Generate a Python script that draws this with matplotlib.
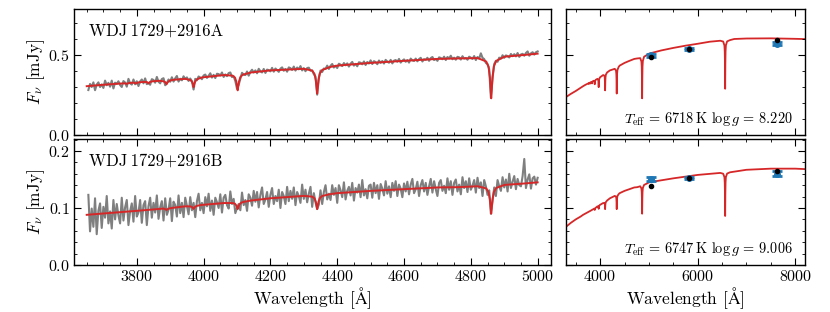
import numpy as np
import matplotlib
matplotlib.use("Agg")
import matplotlib.pyplot as plt
from matplotlib.ticker import MultipleLocator

plt.rcParams['font.family'] = ['cmr10', 'DejaVu Serif']
plt.rcParams['mathtext.fontset'] = 'cm'
plt.rcParams['axes.formatter.use_mathtext'] = True
plt.rcParams['axes.unicode_minus'] = False

# ---------------- data ----------------
spec_wave_start = 3655
spec_wave_step = 5

flux_A = [
 0.282, 0.320, 0.301, 0.330, 0.281, 0.316, 0.330, 0.301, 0.317, 0.295,
 0.341, 0.312, 0.327, 0.303, 0.341, 0.292, 0.328, 0.321, 0.337, 0.313,
 0.301, 0.338, 0.329, 0.303, 0.352, 0.324, 0.316, 0.348, 0.318, 0.337,
 0.307, 0.336, 0.348, 0.324, 0.355, 0.319, 0.326, 0.315, 0.350, 0.345,
 0.328, 0.364, 0.334, 0.324, 0.351, 0.356, 0.312, 0.327, 0.348, 0.334,
 0.362, 0.335, 0.355, 0.370, 0.335, 0.353, 0.343, 0.368, 0.351, 0.361,
 0.339, 0.354, 0.338, 0.285, 0.352, 0.343, 0.367, 0.360, 0.350, 0.373,
 0.379, 0.358, 0.371, 0.387, 0.360, 0.377, 0.357, 0.384, 0.382, 0.373,
 0.392, 0.364, 0.380, 0.369, 0.388, 0.392, 0.363, 0.368, 0.338, 0.290,
 0.315, 0.352, 0.390, 0.378, 0.376, 0.398, 0.372, 0.396, 0.409, 0.392,
 0.405, 0.387, 0.415, 0.400, 0.392, 0.414, 0.389, 0.410, 0.407, 0.399,
 0.421, 0.397, 0.417, 0.407, 0.396, 0.416, 0.424, 0.403, 0.414, 0.397,
 0.424, 0.419, 0.408, 0.429, 0.404, 0.423, 0.412, 0.432, 0.405, 0.419,
 0.400, 0.420, 0.422, 0.403, 0.405, 0.381, 0.367, 0.253, 0.360, 0.404,
 0.395, 0.417, 0.414, 0.435, 0.414, 0.434, 0.445, 0.423, 0.434, 0.420,
 0.447, 0.441, 0.432, 0.451, 0.437, 0.449, 0.429, 0.447, 0.458, 0.435,
 0.446, 0.431, 0.456, 0.453, 0.443, 0.461, 0.439, 0.458, 0.448, 0.468,
 0.445, 0.463, 0.457, 0.444, 0.467, 0.452, 0.464, 0.448, 0.471, 0.460,
 0.453, 0.471, 0.449, 0.466, 0.470, 0.459, 0.477, 0.454, 0.466, 0.474,
 0.459, 0.470, 0.454, 0.479, 0.468, 0.464, 0.479, 0.462, 0.476, 0.484,
 0.461, 0.475, 0.471, 0.484, 0.465, 0.482, 0.489, 0.470, 0.477, 0.465,
 0.487, 0.483, 0.475, 0.491, 0.470, 0.489, 0.480, 0.497, 0.475, 0.485,
 0.472, 0.490, 0.487, 0.473, 0.494, 0.479, 0.483, 0.472, 0.491, 0.485,
 0.477, 0.495, 0.470, 0.489, 0.479, 0.512, 0.484, 0.476, 0.452, 0.445,
 0.413, 0.235, 0.355, 0.445, 0.465, 0.459, 0.485, 0.479, 0.500, 0.484,
 0.499, 0.495, 0.486, 0.508, 0.494, 0.507, 0.493, 0.514, 0.490, 0.505,
 0.509, 0.497, 0.514, 0.524, 0.497, 0.512, 0.519, 0.504, 0.519, 0.524,
]

flux_B = [
 0.123, 0.059, 0.099, 0.067, 0.117, 0.054, 0.095, 0.108, 0.065, 0.102,
 0.083, 0.121, 0.073, 0.094, 0.064, 0.114, 0.080, 0.107, 0.087, 0.073,
 0.118, 0.078, 0.101, 0.114, 0.070, 0.094, 0.108, 0.076, 0.121, 0.085,
 0.092, 0.114, 0.074, 0.105, 0.112, 0.070, 0.103, 0.118, 0.083, 0.109,
 0.092, 0.122, 0.081, 0.101, 0.112, 0.078, 0.117, 0.088, 0.097, 0.117,
 0.077, 0.111, 0.105, 0.085, 0.122, 0.091, 0.109, 0.084, 0.118, 0.104,
 0.089, 0.119, 0.096, 0.109, 0.084, 0.112, 0.125, 0.096, 0.109, 0.091,
 0.119, 0.103, 0.125, 0.095, 0.113, 0.088, 0.118, 0.110, 0.100, 0.124,
 0.092, 0.118, 0.123, 0.105, 0.099, 0.129, 0.107, 0.116, 0.091, 0.100,
 0.107, 0.096, 0.127, 0.105, 0.114, 0.095, 0.124, 0.118, 0.104, 0.130,
 0.111, 0.128, 0.101, 0.123, 0.136, 0.107, 0.115, 0.128, 0.102, 0.123,
 0.135, 0.107, 0.121, 0.112, 0.132, 0.100, 0.128, 0.121, 0.107, 0.137,
 0.112, 0.130, 0.116, 0.136, 0.105, 0.128, 0.121, 0.109, 0.141, 0.116,
 0.132, 0.110, 0.125, 0.137, 0.102, 0.126, 0.110, 0.098, 0.106, 0.131,
 0.107, 0.128, 0.140, 0.115, 0.125, 0.114, 0.140, 0.123, 0.135, 0.109,
 0.140, 0.131, 0.119, 0.145, 0.115, 0.130, 0.137, 0.122, 0.144, 0.113,
 0.135, 0.127, 0.141, 0.119, 0.149, 0.122, 0.133, 0.117, 0.139, 0.141,
 0.118, 0.144, 0.126, 0.140, 0.116, 0.142, 0.134, 0.122, 0.147, 0.125,
 0.138, 0.119, 0.144, 0.130, 0.147, 0.121, 0.141, 0.134, 0.119, 0.143,
 0.129, 0.146, 0.124, 0.141, 0.151, 0.126, 0.133, 0.146, 0.121, 0.140,
 0.149, 0.129, 0.144, 0.123, 0.138, 0.151, 0.127, 0.147, 0.133, 0.121,
 0.144, 0.149, 0.130, 0.139, 0.126, 0.152, 0.132, 0.147, 0.123, 0.144,
 0.150, 0.129, 0.141, 0.124, 0.154, 0.135, 0.147, 0.128, 0.152, 0.132,
 0.139, 0.149, 0.127, 0.153, 0.135, 0.145, 0.121, 0.149, 0.138, 0.123,
 0.131, 0.090, 0.112, 0.136, 0.121, 0.149, 0.138, 0.130, 0.154, 0.136,
 0.150, 0.129, 0.160, 0.135, 0.146, 0.156, 0.133, 0.151, 0.140, 0.138,
 0.156, 0.186, 0.135, 0.150, 0.159, 0.134, 0.152, 0.155, 0.141, 0.153,
]

model_wave_A = [
 3300, 3400, 3500, 3600, 3650, 3700, 3750, 3764, 3770, 3776, 3790, 3796, 3798,
 3800, 3806, 3820, 3830, 3833, 3835, 3837, 3840, 3850, 3869, 3879, 3884, 3887,
 3889, 3891, 3894, 3899, 3909, 3945, 3960, 3965, 3968, 3970, 3972, 3975, 3980,
 3995, 4062, 4087, 4094, 4098, 4100, 4102, 4104, 4106, 4110, 4117, 4142, 4200,
 4300, 4325, 4332, 4336, 4338, 4340, 4342, 4344, 4348, 4355, 4380, 4400, 4500,
 4600, 4700, 4761, 4821, 4846, 4853, 4857, 4859, 4861, 4863, 4865, 4869, 4876,
 4901, 4961, 5000, 5250, 5500, 5750, 6000, 6250, 6463, 6523, 6548, 6555, 6559,
 6561, 6563, 6565, 6567, 6571, 6578, 6603, 6663, 6750, 7000, 7500, 8000, 8250,
]
model_flux_A = [
 0.238, 0.258, 0.276, 0.296, 0.306, 0.315, 0.3225, 0.3239, 0.3205, 0.3257, 0.3283, 0.3245, 0.3227,
 0.3255, 0.3303, 0.3326, 0.3324, 0.3268, 0.3235, 0.3274, 0.3339, 0.3372, 0.340, 0.337, 0.333, 0.326,
 0.318, 0.326, 0.334, 0.341, 0.346, 0.352, 0.345, 0.335, 0.318, 0.300, 0.319, 0.336, 0.349,
 0.361, 0.376, 0.372, 0.360, 0.334, 0.307, 0.280, 0.308, 0.335, 0.363, 0.378, 0.392, 0.405,
 0.415, 0.404, 0.383, 0.342, 0.301, 0.260, 0.302, 0.344, 0.386, 0.408, 0.427, 0.435, 0.452,
 0.465, 0.477, 0.480, 0.482, 0.461, 0.428, 0.362, 0.296, 0.230, 0.296, 0.363, 0.430, 0.465,
 0.491, 0.502, 0.510, 0.530, 0.546, 0.560, 0.572, 0.585, 0.591, 0.586, 0.561, 0.522, 0.445,
 0.367, 0.290, 0.367, 0.445, 0.522, 0.562, 0.587, 0.595, 0.602, 0.605, 0.606, 0.603, 0.601,
]

model_wave_B = [
 3300, 3400, 3500, 3600, 3650, 3800, 3879, 3884, 3887, 3889, 3891, 3894, 3899,
 3909, 3945, 3960, 3965, 3968, 3970, 3972, 3975, 3980, 3995, 4062, 4087, 4094,
 4098, 4100, 4102, 4104, 4106, 4110, 4117, 4142, 4200, 4300, 4325, 4332, 4336,
 4338, 4340, 4342, 4344, 4348, 4355, 4380, 4400, 4500, 4600, 4700, 4761, 4821,
 4846, 4853, 4857, 4859, 4861, 4863, 4865, 4869, 4876, 4901, 4961, 5000, 5500,
 6000, 6463, 6523, 6548, 6555, 6559, 6561, 6563, 6565, 6567, 6571, 6578, 6603,
 6663, 7000, 7500, 8000, 8250,
]
model_flux_B = [
 0.067, 0.074, 0.080, 0.085, 0.088, 0.095, 0.0989, 0.0982, 0.0974, 0.0965, 0.0975, 0.0984, 0.0994,
 0.1004, 0.1029, 0.1028, 0.1018, 0.1002, 0.0985, 0.1004, 0.1023, 0.1038, 0.1054, 0.1087, 0.1087, 0.1074,
 0.1044, 0.1012, 0.098, 0.1014, 0.1048, 0.1082, 0.1103, 0.1131, 0.117, 0.1212, 0.1199, 0.1169, 0.1106,
 0.1043, 0.098, 0.1045, 0.1110, 0.1175, 0.1211, 0.1244, 0.126, 0.130, 0.133, 0.136, 0.1365, 0.1381,
 0.1343, 0.1278, 0.1152, 0.1028, 0.090, 0.1029, 0.1154, 0.1281, 0.1352, 0.1405, 0.1430, 0.145, 0.152,
 0.158, 0.1615, 0.1601, 0.1541, 0.1441, 0.1246, 0.1051, 0.086, 0.1051, 0.1247, 0.1442, 0.1543, 0.1604,
 0.1626, 0.167, 0.169, 0.169, 0.168,
]

phot_wave = [5036, 5822, 7620]
phot_obs_A = [0.500, 0.540, 0.573]
phot_err_A = [0.010, 0.006, 0.010]
phot_syn_A = [0.490, 0.541, 0.594]
phot_obs_B = [0.151, 0.153, 0.160]
phot_err_B = [0.004, 0.002, 0.004]
phot_syn_B = [0.139, 0.152, 0.165]

names = ["WDJ\u20091729+2916A", "WDJ\u20091729+2916B"]
fit_labels = [r"$T_\mathrm{eff}$ = 6718$\,$K $\log g$ = 8.220",
              r"$T_\mathrm{eff}$ = 6747$\,$K $\log g$ = 9.006"]

# ---------------- plot ----------------
W, H = 830, 312
fig = plt.figure(figsize=(W / 100, H / 100), dpi=100)

def ax_rect(x0, y0, x1, y1):
    return [x0 / W, 1 - y1 / H, (x1 - x0) / W, (y1 - y0) / H]

axL1 = fig.add_axes(ax_rect(74, 9, 551, 135))
axL2 = fig.add_axes(ax_rect(74, 139, 551, 265))
axR1 = fig.add_axes(ax_rect(566, 9, 805, 135))
axR2 = fig.add_axes(ax_rect(566, 139, 805, 265))

wave = np.arange(len(flux_A)) * spec_wave_step + spec_wave_start

gray = '#7f7f7f'
red = '#d62728'
blue = '#1f77b4'

for ax, flux, mw, mf in [(axL1, flux_A, model_wave_A, model_flux_A),
                         (axL2, flux_B, model_wave_B, model_flux_B)]:
    ax.plot(wave, flux, color=gray, lw=1.5, zorder=1)
    mw = np.asarray(mw); mf = np.asarray(mf)
    sel = (mw >= 3650) & (mw <= 5000)
    ax.plot(mw[sel], mf[sel], color=red, lw=1.4, zorder=2)
    ax.set_xlim(3612, 5040)

for ax, mw, mf, po, pe, ps in [(axR1, model_wave_A, model_flux_A, phot_obs_A, phot_err_A, phot_syn_A),
                               (axR2, model_wave_B, model_flux_B, phot_obs_B, phot_err_B, phot_syn_B)]:
    ax.plot(mw, mf, color=red, lw=1.3, zorder=1)
    ax.errorbar(phot_wave, po, yerr=pe, fmt='o', color=blue, ms=4,
                elinewidth=2.5, capsize=3.5, capthick=2, zorder=2)
    ax.plot(phot_wave, ps, 'o', color='black', ms=3, zorder=3)
    ax.set_xlim(3300, 8200)

for ax in (axL1, axR1):
    ax.set_ylim(0, 0.79)
    ax.yaxis.set_major_locator(MultipleLocator(0.5))
    ax.yaxis.set_minor_locator(MultipleLocator(0.1))
for ax in (axL2, axR2):
    ax.set_ylim(0, 0.221)
    ax.yaxis.set_major_locator(MultipleLocator(0.1))
    ax.yaxis.set_minor_locator(MultipleLocator(0.02))
for ax in (axL1, axL2):
    ax.xaxis.set_major_locator(MultipleLocator(200))
    ax.xaxis.set_minor_locator(MultipleLocator(50))
for ax in (axR1, axR2):
    ax.xaxis.set_major_locator(MultipleLocator(2000))
    ax.xaxis.set_minor_locator(MultipleLocator(500))
    ax.tick_params(labelleft=False)

for ax in (axL1, axL2, axR1, axR2):
    ax.tick_params(which='both', direction='in', top=True, right=True, labelsize=11.5)
    ax.tick_params(which='major', length=5, width=0.8, pad=3)
    ax.tick_params(which='minor', length=2.5, width=0.6)
    for s in ax.spines.values():
        s.set_linewidth(1.0)
for ax in (axL1, axR1):
    ax.tick_params(labelbottom=False)

for ax, nm in [(axL1, names[0]), (axL2, names[1])]:
    ax.text(0.031, 0.885, nm, transform=ax.transAxes, fontsize=12, va='top', ha='left',
            family=['cmr10', 'DejaVu Serif'])
    ax.set_ylabel(r"$F_\nu$ [mJy]", fontsize=12.5, labelpad=1)

axR1.text(0.95, 0.13, fit_labels[0], transform=axR1.transAxes, fontsize=10.3, ha='right', va='center')
axR2.text(0.95, 0.13, fit_labels[1], transform=axR2.transAxes, fontsize=10.3, ha='right', va='center')

axL2.set_xlabel(r"Wavelength [$\mathrm{\AA}$]", fontsize=12.5, labelpad=1)
axR2.set_xlabel(r"Wavelength [$\mathrm{\AA}$]", fontsize=12.5, labelpad=1)

fig.savefig("out.png", dpi=100)
